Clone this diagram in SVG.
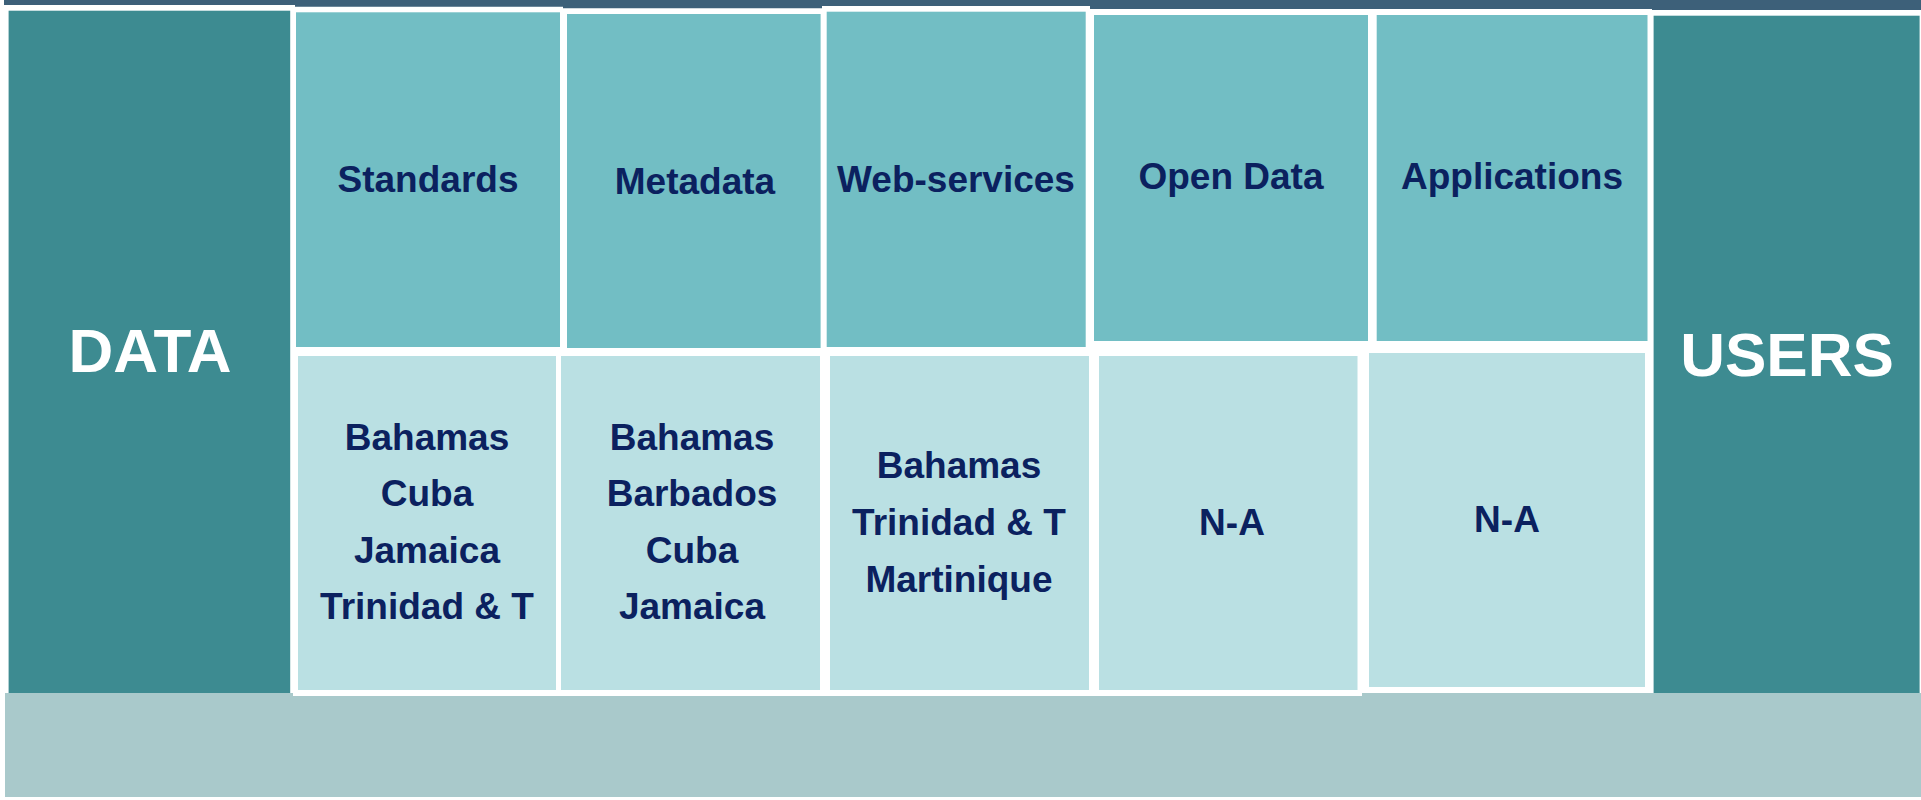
<svg xmlns="http://www.w3.org/2000/svg" width="1921" height="800" viewBox="0 0 1921 800">
<style>
.dark{fill:#3d8b91}
.mid{fill:#72bec4}
.light{fill:#bae0e3}
.hd{font-family:"Liberation Sans",Arial,sans-serif;font-weight:bold;font-size:37px;fill:#0b215f;text-anchor:middle}
.big{font-family:"Liberation Sans",Arial,sans-serif;font-weight:bold;font-size:62px;fill:#ffffff;text-anchor:middle}
</style>
<rect x="0" y="0" width="1921" height="800" fill="#ffffff"/>
<path id="topbar" d="M4 0 H1921 V10 H1652 V9 H1090 V6 H822 V8.3 H563 V6.7 H295 V5 H4 Z" fill="#3d6079"/>
<rect id="bottom-strip" x="5" y="693" width="1916" height="104" fill="#a9c9cb"/>
<rect x="293" y="690" width="1069" height="6" fill="#ffffff"/>
<g id="data">
<rect class="dark" x="8.6" y="10.7" width="281.6" height="682.3"/>
<text class="big" x="150" y="372">DATA</text>
</g>
<g id="users">
<rect class="dark" x="1653.6" y="15.7" width="266" height="677.3"/>
<text class="big" x="1787" y="376">USERS</text>
</g>
<g id="standards">
<rect class="mid" x="296" y="12.3" width="264" height="334.7"/>
<text class="hd" x="428" y="192">Standards</text>
</g>
<g id="metadata">
<rect class="mid" x="567" y="14" width="253.6" height="334"/>
<text class="hd" x="695" y="194">Metadata</text>
</g>
<g id="web-services">
<rect class="mid" x="826.7" y="11.7" width="259" height="335.3"/>
<text class="hd" x="956" y="192">Web-services</text>
</g>
<g id="open-data">
<rect class="mid" x="1094" y="15" width="274" height="326"/>
<text class="hd" x="1231" y="189">Open Data</text>
</g>
<g id="applications">
<rect class="mid" x="1376.7" y="15" width="270.8" height="326"/>
<text class="hd" x="1512" y="189">Applications</text>
</g>
<g id="standards-countries">
<rect class="light" x="298" y="356" width="258" height="334"/>
<text class="hd" x="427" y="449.5">Bahamas</text>
<text class="hd" x="427" y="506">Cuba</text>
<text class="hd" x="427" y="562.5">Jamaica</text>
<text class="hd" x="427" y="619">Trinidad &amp; T</text>
</g>
<g id="metadata-countries">
<rect class="light" x="561" y="356" width="259" height="334"/>
<text class="hd" x="692" y="449.5">Bahamas</text>
<text class="hd" x="692" y="506">Barbados</text>
<text class="hd" x="692" y="562.5">Cuba</text>
<text class="hd" x="692" y="619">Jamaica</text>
</g>
<g id="web-services-countries">
<rect class="light" x="830" y="356" width="259" height="334"/>
<text class="hd" x="959" y="478">Bahamas</text>
<text class="hd" x="959" y="535">Trinidad &amp; T</text>
<text class="hd" x="959" y="591.5">Martinique</text>
</g>
<g id="open-data-countries">
<rect class="light" x="1099" y="356" width="258.5" height="334"/>
<text class="hd" x="1232" y="535">N-A</text>
</g>
<g id="applications-countries">
<rect class="light" x="1369" y="353" width="276" height="334"/>
<text class="hd" x="1507" y="532">N-A</text>
</g>
<g id="connectors"/>
</svg>
